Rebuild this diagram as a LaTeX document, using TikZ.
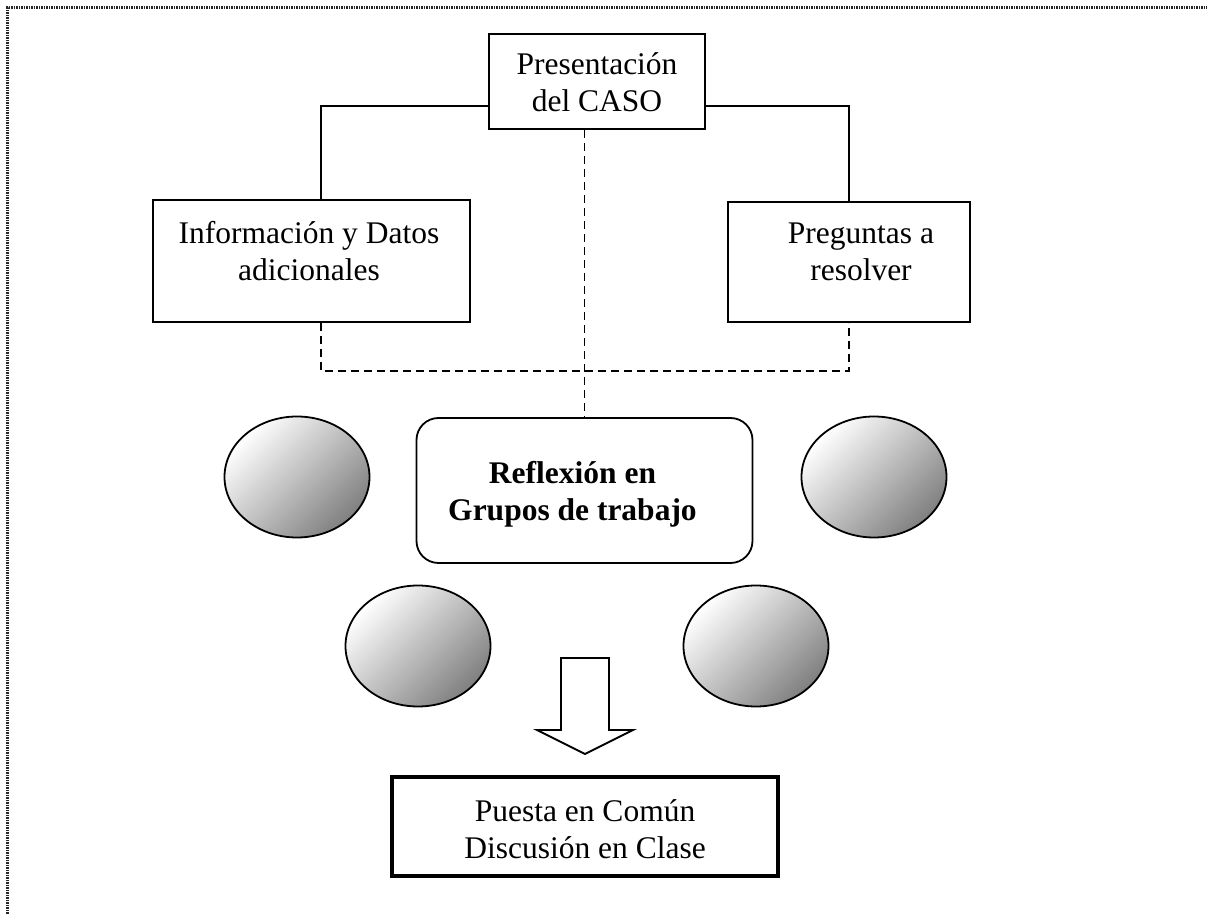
\documentclass[tikz,border=0pt]{standalone}
\usepackage{fontspec}
\setmainfont{Liberation Serif}
\usetikzlibrary{shapes.geometric}
\begin{document}
\begin{tikzpicture}[x=0.5pt,y=-0.5pt,
  txt/.style={font=\fontsize{15.75}{18.5}\selectfont, align=center, inner sep=0pt},
  boldtxt/.style={txt, font=\fontsize{15.75}{18.5}\selectfont\bfseries},
  box/.style={draw, line width=0.9pt, inner sep=0pt, rectangle},
  rbox/.style={box, rounded corners=11pt},
  thickbox/.style={box, line width=2.25pt},
  blob/.style={ellipse, draw, line width=0.9pt, inner sep=0pt,
    minimum width=72.5pt, minimum height=60.5pt,
    top color=white, bottom color=black!50, shading angle=45},
  link/.style={line width=0.9pt},
  dlink/.style={line width=0.9pt, dash pattern=on 4pt off 2.5pt},
  frame/.style={line width=1.5pt, dash pattern=on 0.75pt off 0.5pt, black!85}]
\useasboundingbox (0,0) rectangle (1207,914);
\draw[frame] (7,914) -- (7,8) -- (1207,8);

% boxes
\node[box, minimum width=108pt, minimum height=47.5pt] (pres) at (597,81.5) {};
\node[box, minimum width=158.5pt, minimum height=61pt] (info) at (311.5,261) {};
\node[box, minimum width=121pt, minimum height=60pt] (preg) at (849,262) {};
\node[rbox, minimum width=168pt, minimum height=72.5pt] (refl) at (584.5,490.5) {};
\node[thickbox, minimum width=193pt, minimum height=49.5pt] (puesta) at (585,826.5) {};

% texts
\node[txt] (pres-t) at (597,82.5) {Presentación\\del CASO};
\node[txt] (info-t) at (309,251) {Información y Datos\\adicionales};
\node[txt] (preg-t) at (861,252) {Preguntas a\\resolver};
\node[boldtxt] (refl-t) at (572.5,494.5) {Reflexión en\\Grupos de trabajo};
\node[txt] (puesta-t) at (585,829.5) {Puesta en Común\\Discusión en Clase};

% shaded ellipses
\node[blob] (e1) at (297,477) {};
\node[blob] (e2) at (874,477) {};
\node[blob] (e3) at (418,646) {};
\node[blob] (e4) at (756,646) {};

% connectors
\coordinate (pl) at (489,106);
\coordinate (pr) at (705,106);
\draw[link] (pl) -| ([xshift=4.75pt]info.north);
\draw[link] (pr) -| (preg.north);
\draw[dlink] ([xshift=4.75pt]info.south) -- ++(0,48) -| (preg.south);
\draw[dlink] (refl.north |- pres.south) -- (refl.north);

% block arrow
\draw[link, line join=miter] (561,658) -- (609,658) -- (609,730) -- (633,730) -- (585,754) -- (537,730) -- (561,730) -- cycle;
\end{tikzpicture}
\end{document}
